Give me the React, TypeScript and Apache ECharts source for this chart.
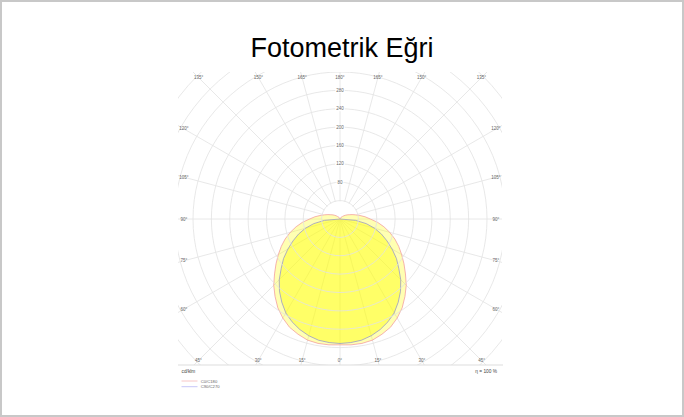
import React, { useEffect, useRef } from "react";
import * as echarts from "echarts";

// Luminous intensity (cd/klm), gamma in degrees
const gammaOuter = [0, 5, 10, 15, 20, 25, 30, 35, 40, 45, 50, 55, 60, 65, 70, 75, 80, 85, 90, 95, 100, 105, 110, 115, 120, 125, 130, 135, 140, 145, 150, 155, 160, 165, 170, 175, 180];
const c0c180 = [274, 275, 275, 273, 267, 260, 249, 236, 220, 204, 186, 170, 155, 141, 127, 112, 97, 82, 66, 55, 44, 35, 28, 22, 18, 14, 11, 8, 6, 5, 4, 3, 2, 1.5, 1, 0.5, 0];
const gammaInner = [0, 5, 10, 15, 20, 25, 30, 35, 40, 45, 50, 55, 60, 65, 70, 75, 80, 85, 90];
const c90c270 = [271, 270, 268, 263, 256, 247, 236, 221, 205, 187, 167, 150, 131, 113, 96, 78, 58, 34, 0];

const angleTicks = [0, 15, 30, 45, 60, 75, 90, 105, 120, 135, 150, 165, 180];
const radiusLabels = [80, 120, 160, 200, 240, 280];
const seriesNames = ["C0/C180", "C90/C270"];
const unitLabel = "cd/klm";
const etaLabel = "η = 100 %";
const titleText = "Fotometrik Eğri";

const CX = 340;
const CY = 219;
const RMAX = 480;
const RPX = 220.5;
const FONT = "'Liberation Sans', Arial, sans-serif";

function loop(gam: number[], vals: number[]) {
  const pts: [number, number][] = [];
  for (let i = gam.length - 1; i >= 0; i--) pts.push([vals[i], 180 - gam[i]]);
  for (let i = 1; i < gam.length; i++) pts.push([vals[i], 180 + gam[i]]);
  return pts;
}

export default function App() {
  const ref = useRef<HTMLDivElement>(null);
  useEffect(() => {
    if (!ref.current) return;
    const chart = echarts.init(ref.current, undefined, { renderer: "svg" });

    const labelEls: any[] = [];
    const hw = 156, ht = 141.3, hb = 141.7;
    angleTicks.forEach((g) => {
      const sides = g === 0 || g === 180 ? [1] : [1, -1];
      sides.forEach((s) => {
        const rad = (g * Math.PI) / 180;
        const dx = Math.sin(rad) * s;
        const dy = Math.cos(rad);
        let t = Infinity;
        if (Math.abs(dx) > 1e-9) t = Math.min(t, hw / Math.abs(dx));
        if (Math.abs(dy) > 1e-9) t = Math.min(t, (dy > 0 ? hb : ht) / Math.abs(dy));
        labelEls.push({
          type: "text",
          z: 120,
          x: CX + dx * t,
          y: CY + dy * t,
          style: {
            text: g + "°",
            fontSize: 4.5,
            fontFamily: FONT,
            fill: "#666",
            align: "center",
            verticalAlign: "middle",
          },
        });
      });
    });

    const white = "#ffffff";
    chart.setOption({
      animation: false,
      title: {
        text: titleText,
        left: "center",
        top: 29,
        z: 200,
        textStyle: { fontSize: 27, fontWeight: "normal", color: "#000", fontFamily: FONT },
      },
      polar: { center: [CX, CY], radius: RPX },
      angleAxis: {
        type: "value",
        min: 0,
        max: 360,
        interval: 15,
        startAngle: 90,
        clockwise: true,
        axisLine: { show: false },
        axisTick: { show: false },
        axisLabel: { show: false },
        splitLine: { show: true, lineStyle: { color: "#e2e2e2", width: 0.8 } },
      },
      radiusAxis: {
        type: "value",
        min: 0,
        max: RMAX,
        interval: 40,
        axisLine: { show: false },
        axisTick: { show: false },
        axisLabel: {
          show: true,
          margin: 0,
          align: "center",
          verticalAlign: "middle",
          fontSize: 4.5,
          fontFamily: FONT,
          color: "#666",
          backgroundColor: "#fff",
          padding: [0, 1],
          formatter: (v: number) => (radiusLabels.indexOf(v) >= 0 ? String(v) : ""),
        },
        splitLine: { show: true, lineStyle: { color: "#e2e2e2", width: 0.8 } },
        z: 3,
      },
      series: [
        {
          name: seriesNames[0],
          type: "line",
          coordinateSystem: "polar",
          data: loop(gammaOuter, c0c180),
          smooth: false,
          symbol: "none",
          color: "#f2a0a0",
          lineStyle: { color: "#f2a0a0", width: 0.8 },
          areaStyle: { color: "rgba(255,255,0,0.3)", opacity: 1 },
          z: 2,
        },
        {
          name: seriesNames[1],
          type: "line",
          coordinateSystem: "polar",
          data: loop(gammaInner, c90c270),
          smooth: false,
          symbol: "none",
          color: "#a8a8f0",
          lineStyle: { color: "#9a9ac8", width: 0.8 },
          areaStyle: { color: "rgba(255,255,0,0.42)", opacity: 1 },
          z: 2,
        },
      ],
      graphic: [
        {
          type: "sector",
          z: 1,
          silent: true,
          shape: { cx: CX, cy: CY, r0: 0, r: 17.8, startAngle: Math.PI, endAngle: Math.PI * 2 },
          style: { fill: white },
        },
        { type: "rect", z: 100, silent: true, shape: { x: 0, y: 0, width: 684, height: 72 }, style: { fill: white } },
        { type: "rect", z: 100, silent: true, shape: { x: 0, y: 365, width: 684, height: 52 }, style: { fill: white } },
        { type: "rect", z: 100, silent: true, shape: { x: 0, y: 0, width: 178, height: 417 }, style: { fill: white } },
        { type: "rect", z: 100, silent: true, shape: { x: 502, y: 0, width: 182, height: 417 }, style: { fill: white } },
        { type: "line", z: 110, silent: true, shape: { x1: 178, y1: 365, x2: 503, y2: 365 }, style: { stroke: "#dddddd", lineWidth: 1 } },
        ...labelEls,
        {
          type: "text", z: 120, x: 181.5, y: 371,
          style: { text: unitLabel, fontSize: 4.8, fontFamily: FONT, fill: "#444", align: "left", verticalAlign: "middle" },
        },
        {
          type: "text", z: 120, x: 497, y: 371,
          style: { text: etaLabel, fontSize: 4.8, fontFamily: FONT, fill: "#444", align: "right", verticalAlign: "middle" },
        },
        { type: "line", z: 120, shape: { x1: 181.5, y1: 381, x2: 197.5, y2: 381 }, style: { stroke: "#f5b8b8", lineWidth: 0.8 } },
        { type: "line", z: 120, shape: { x1: 181.5, y1: 386.7, x2: 197.5, y2: 386.7 }, style: { stroke: "#b8b8f5", lineWidth: 0.8 } },
        {
          type: "text", z: 120, x: 200.7, y: 381,
          style: { text: seriesNames[0], fontSize: 4.2, fontFamily: FONT, fill: "#666", align: "left", verticalAlign: "middle" },
        },
        {
          type: "text", z: 120, x: 200.7, y: 386.7,
          style: { text: seriesNames[1], fontSize: 4.2, fontFamily: FONT, fill: "#666", align: "left", verticalAlign: "middle" },
        },
        {
          type: "rect", z: 150, silent: true,
          shape: { x: 1, y: 1, width: 682, height: 415 },
          style: { fill: "none", stroke: "#c8c8c8", lineWidth: 2 },
        },
      ],
    });
    return () => chart.dispose();
  }, []);
  return (
    <div
      ref={ref}
      style={{ position: "fixed", left: 0, top: 0, width: 684, height: 417, background: "#fff" }}
    />
  );
}
